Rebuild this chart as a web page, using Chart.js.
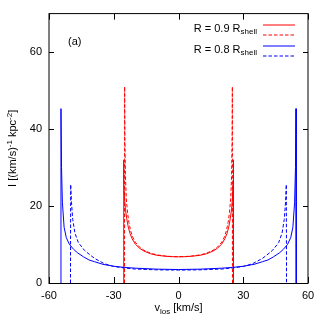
<!DOCTYPE html>
<html>
<head>
<meta charset="utf-8">
<script src="https://cdn.jsdelivr.net/npm/chart.js@4.4.0/dist/chart.umd.min.js"></script>
<style>
html,body{margin:0;padding:0;background:#fff;}
#wrap{width:327px;height:327px;position:relative;}
</style>
</head>
<body>
<div id="wrap"><canvas id="c" width="327" height="327"></canvas></div>
<script>
// ---- data ----
const xTicks = [-60, -30, 0, 30, 60];
const yTicks = [0, 20, 40, 60];

const vRedSolid = [-25.5, -25.45, -25.3, -25.0, -24.6, -24.0, -23.3, -22.5, -21.5, -20, -18, -16, -13, -10, -6, -3, 0,
                   3, 6, 10, 13, 16, 18, 20, 21.5, 22.5, 23.3, 24.0, 24.6, 25.0, 25.3, 25.45, 25.5];
const iRedSolid = [0, 32, 26, 22, 19.2, 16.8, 14.6, 12.9, 11.5, 10.1, 9.0, 8.3, 7.6, 7.2, 6.95, 6.83, 6.8,
                   6.83, 6.95, 7.2, 7.6, 8.3, 9.0, 10.1, 11.5, 12.9, 14.6, 16.8, 19.2, 22, 26, 32, 0];

const vRedDash = [-25.0, -24.95, -24.85, -24.6, -24.2, -23.6, -23.0, -22.2, -21.2, -20, -18, -16, -13, -10, -6, -3, 0,
                  3, 6, 10, 13, 16, 18, 20, 21.2, 22.2, 23.0, 23.6, 24.2, 24.6, 24.85, 24.95, 25.0];
const iRedDash = [0, 51, 38, 28, 22, 18.2, 15.8, 13.6, 11.9, 10.6, 9.3, 8.5, 7.75, 7.3, 7.0, 6.88, 6.85,
                  6.88, 7.0, 7.3, 7.75, 8.5, 9.3, 10.6, 11.9, 13.6, 15.8, 18.2, 22, 28, 38, 51, 0];

const vBlueSolid = [-54.55, -54.45, -54.2, -53.8, -53.0, -52.0, -50.5, -48.5, -46.7, -44, -41.5, -39, -35, -30, -25, -20, -10, 0,
                    10, 20, 25, 30, 35, 39, 41.5, 44, 46.7, 48.5, 50.5, 52.0, 53.0, 53.8, 54.2, 54.45, 54.55];
const iBlueSolid = [0, 45.3, 30, 21, 14.5, 11.8, 10.0, 8.7, 7.8, 6.8, 6.0, 5.55, 4.85, 4.35, 4.05, 3.85, 3.6, 3.5,
                    3.6, 3.85, 4.05, 4.35, 4.85, 5.55, 6.0, 6.8, 7.8, 8.7, 10.0, 11.8, 14.5, 21, 30, 45.3, 0];

const vBlueDash = [-50.05, -49.95, -49.6, -49.0, -48.0, -46.4, -43.6, -41, -38.9, -34.3, -30, -25, -20, -10, 0,
                   10, 20, 25, 30, 34.3, 38.9, 41, 43.6, 46.4, 48.0, 49.0, 49.6, 49.95, 50.05];
const iBlueDash = [0, 25.6, 21, 16.5, 13, 10.5, 8.5, 7.3, 6.4, 5.0, 4.3, 3.9, 3.62, 3.42, 3.35,
                   3.42, 3.62, 3.9, 4.3, 5.0, 6.4, 7.3, 8.5, 10.5, 13, 16.5, 21, 25.6, 0];

const seriesLabels = ['R = 0.9 R_shell', '', 'R = 0.8 R_shell', ''];
const seriesColors = ['#ff0000', '#ff0000', '#0000ff', '#0000ff'];
const seriesDash = [[], [3.5, 2], [], [3.5, 2]];

function pts(xs, ys){ return xs.map((x,i)=>({x:x, y:ys[i]})); }

const FONT = '"Liberation Sans", Arial, Helvetica, sans-serif';
const FS = 11, SS = 8;

function richWidth(ctx, parts){
  let w = 0;
  parts.forEach(p=>{ ctx.font = p.s + 'px ' + FONT; w += ctx.measureText(p.t).width; });
  return w;
}
function drawRich(ctx, parts, x, y, align){
  const w = richWidth(ctx, parts);
  let cx = align === 'center' ? x - w/2 : (align === 'right' ? x - w : x);
  ctx.textAlign = 'left';
  ctx.textBaseline = 'alphabetic';
  parts.forEach(p=>{
    ctx.font = p.s + 'px ' + FONT;
    ctx.fillText(p.t, cx, y + (p.dy||0));
    cx += ctx.measureText(p.t).width;
  });
}

const decor = {
  id: 'decor',
  afterDatasetsDraw(chart){
    const ctx = chart.ctx, a = chart.chartArea;
    const xs = chart.scales.x, ys = chart.scales.y;
    ctx.save();
    ctx.strokeStyle = '#000';
    ctx.lineWidth = 1;
    ctx.setLineDash([]);
    ctx.beginPath();
    xTicks.forEach(v=>{
      const px = Math.round(xs.getPixelForValue(v)) + 0.5;
      ctx.moveTo(px, a.bottom); ctx.lineTo(px, a.bottom - 6);
      ctx.moveTo(px, a.top); ctx.lineTo(px, a.top + 6);
    });
    yTicks.forEach(v=>{
      const py = Math.round(ys.getPixelForValue(v)) + 0.5;
      ctx.moveTo(a.left, py); ctx.lineTo(a.left + 5, py);
      ctx.moveTo(a.right, py); ctx.lineTo(a.right - 5, py);
    });
    ctx.stroke();
    ctx.strokeRect(a.left, a.top, a.right - a.left, a.bottom - a.top + 0.5);
    ctx.restore();
  },
  afterDraw(chart){
    const ctx = chart.ctx, a = chart.chartArea;
    ctx.save();
    ctx.fillStyle = '#000';
    drawRich(ctx, [{t:'v', s:FS}, {t:'los', s:SS, dy:3}, {t:' [km/s]', s:FS}],
             (a.left + a.right)/2, 311, 'center');
    ctx.save();
    ctx.translate(16, (a.top + a.bottom)/2);
    ctx.rotate(-Math.PI/2);
    drawRich(ctx, [{t:'I [(km/s)', s:FS}, {t:'-1', s:SS, dy:-4}, {t:' kpc', s:FS}, {t:'-2', s:SS, dy:-4}, {t:']', s:FS}],
             0, 0, 'center');
    ctx.restore();
    drawRich(ctx, [{t:'(a)', s:FS}], 68, 45, 'left');
    const lx0 = 263, lx1 = 295;
    const rows = [24.5, 35, 45.5, 56];
    rows.forEach((ry, i)=>{
      ctx.save();
      ctx.strokeStyle = seriesColors[i];
      ctx.lineWidth = 1;
      ctx.setLineDash(seriesDash[i]);
      ctx.beginPath();
      const yy = Math.round(ry);
      ctx.moveTo(lx0, yy); ctx.lineTo(lx1, yy);
      ctx.stroke();
      ctx.restore();
      const lab = seriesLabels[i];
      if (lab) {
        const [main, sub] = lab.split('_');
        ctx.fillStyle = '#000';
        drawRich(ctx, [{t:main, s:FS}, {t:sub, s:SS, dy:2.5}], 257, ry + 7, 'right');
      }
    });
    ctx.restore();
  }
};

const sets = [[vRedSolid, iRedSolid], [vRedDash, iRedDash], [vBlueSolid, iBlueSolid], [vBlueDash, iBlueDash]];

new Chart(document.getElementById('c'), {
  type: 'line',
  data: {
    datasets: sets.map((s, i) => ({
      label: seriesLabels[i], data: pts(s[0], s[1]),
      borderColor: seriesColors[i], borderWidth: 1, borderDash: seriesDash[i],
      pointRadius: 0, tension: 0, fill: false, order: 4 - i
    }))
  },
  options: {
    responsive: false,
    animation: false,
    devicePixelRatio: 1,
    layout: {padding: {left: 0, right: 19, top: 13, bottom: 0}},
    plugins: {legend: {display: false}, tooltip: {enabled: false}},
    scales: {
      x: {
        type: 'linear', min: -60, max: 60,
        grid: {display: false, drawTicks: false},
        border: {display: false},
        afterBuildTicks: s => { s.ticks = xTicks.map(v=>({value:v})); },
        afterFit: s => { s.height = 44; },
        ticks: {padding: 6, color: '#000', font: {family: FONT, size: FS}, maxRotation: 0, autoSkip: false}
      },
      y: {
        type: 'linear', min: 0, max: 70,
        grid: {display: false, drawTicks: false},
        border: {display: false},
        afterBuildTicks: s => { s.ticks = yTicks.map(v=>({value:v})); },
        afterFit: s => { s.width = 49; },
        ticks: {padding: 7, color: '#000', font: {family: FONT, size: FS}}
      }
    }
  },
  plugins: [decor]
});
</script>
</body>
</html>
